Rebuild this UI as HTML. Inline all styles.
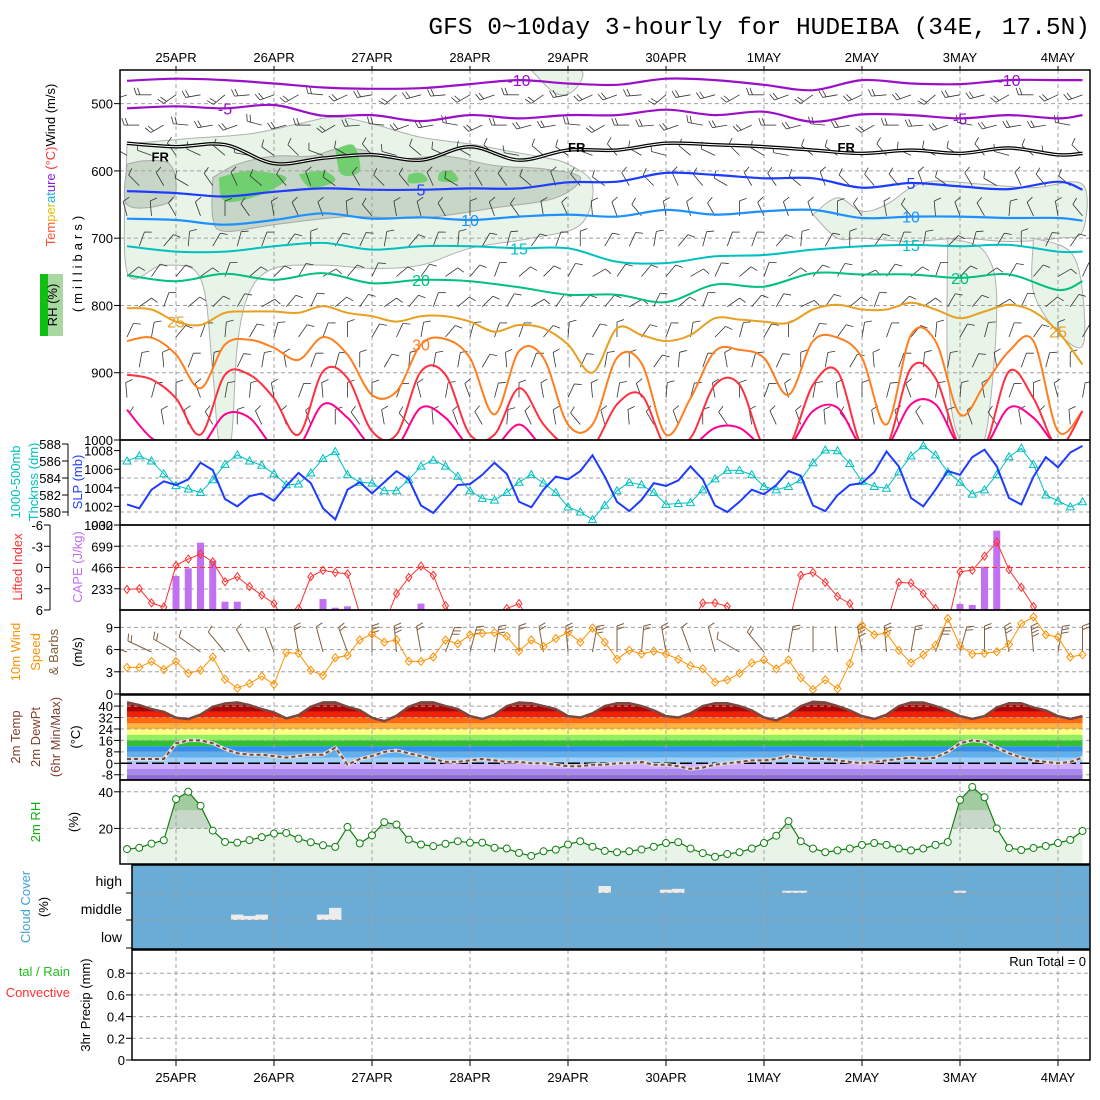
<!DOCTYPE html>
<html><head><meta charset="utf-8"><style>
html,body{margin:0;padding:0;background:#fff;}
svg{display:block;font-family:"Liberation Sans",sans-serif;}
</style></head><body>
<svg id="chart" width="1100" height="1100" viewBox="0 0 1100 1100" xmlns="http://www.w3.org/2000/svg">
<text x="1090" y="34" text-anchor="end" font-family="Liberation Mono, monospace" font-size="24.5">GFS 0~10day 3-hourly for HUDEIBA (34E, 17.5N)</text>
<g id="content"></g>
<g font-size="13">
<rect x="40" y="274" width="23" height="62" fill="#a8d8a0"/>
<rect x="40" y="274" width="8" height="62" fill="#10c010"/>
<text transform="rotate(-90 57 305)" x="57" y="305" text-anchor="middle">RH (%)</text>
<text transform="rotate(-90 55 165)" x="55" y="165" text-anchor="middle"><tspan fill="#ff5030">Tem</tspan><tspan fill="#e0c000">per</tspan><tspan fill="#20b0e0">at</tspan><tspan fill="#8020e0">ure</tspan><tspan fill="#ff3030"> (°C)</tspan><tspan fill="#000">Wind (m/s)</tspan></text>
<text transform="rotate(-90 82 262)" x="82" y="262" text-anchor="middle" letter-spacing="4">(millibars)</text>
<text transform="rotate(-90 20 482)" x="20" y="482" text-anchor="middle" fill="#00c0c0">1000-500mb</text>
<text transform="rotate(-90 38 482)" x="38" y="482" text-anchor="middle" fill="#00c0c0">Thcknss (dm)</text>
<text transform="rotate(-90 82 482)" x="82" y="482" text-anchor="middle" fill="#2040ff">SLP (mb)</text>
<text transform="rotate(-90 22 567)" x="22" y="567" text-anchor="middle" fill="#ff3030">Lifted Index</text>
<text transform="rotate(-90 82 567)" x="82" y="567" text-anchor="middle" fill="#c070f0">CAPE (J/kg)</text>
<text transform="rotate(-90 20 652)" x="20" y="652" text-anchor="middle" fill="#ff9000">10m Wind</text>
<text transform="rotate(-90 40 652)" x="40" y="652" text-anchor="middle" fill="#ff9000">Speed</text>
<text transform="rotate(-90 58 652)" x="58" y="652" text-anchor="middle" fill="#806040">&amp; Barbs</text>
<text transform="rotate(-90 82 652)" x="82" y="652" text-anchor="middle">(m/s)</text>
<text transform="rotate(-90 20 737)" x="20" y="737" text-anchor="middle" fill="#804030">2m Temp</text>
<text transform="rotate(-90 40 737)" x="40" y="737" text-anchor="middle" fill="#804030">2m DewPt</text>
<text transform="rotate(-90 60 737)" x="60" y="737" text-anchor="middle" fill="#804030">(6hr Min/Max)</text>
<text transform="rotate(-90 80 737)" x="80" y="737" text-anchor="middle">(°C)</text>
<text transform="rotate(-90 40 822)" x="40" y="822" text-anchor="middle" fill="#10b010">2m RH</text>
<text transform="rotate(-90 78 822)" x="78" y="822" text-anchor="middle">(%)</text>
<text transform="rotate(-90 30 907)" x="30" y="907" text-anchor="middle" fill="#40a0d8">Cloud Cover</text>
<text transform="rotate(-90 48 907)" x="48" y="907" text-anchor="middle">(%)</text>
<text x="70" y="976" text-anchor="end" fill="#20c020">tal / Rain</text>
<text x="70" y="997" text-anchor="end" fill="#ff3030">Convective</text>
<text transform="rotate(-90 90 1005)" x="90" y="1005" text-anchor="middle">3hr Precip (mm)</text>
</g>
</svg>
<script>
// ===== data =====
const days = ["25APR","26APR","27APR","28APR","29APR","30APR","1MAY","2MAY","3MAY","4MAY"];
const slp = [1002.2,1001.8,1003.8,1004.7,1004.3,1004.9,1006.7,1005.9,1002.8,1002.0,1003.1,1003.4,1002.6,1004.2,1005.6,1004.5,1001.8,1000.6,1003.8,1004.6,1003.4,1004.6,1005.8,1004.9,1002.1,1001.3,1002.8,1004.3,1004.4,1005.4,1006.7,1005.5,1002.5,1001.9,1003.8,1005.2,1004.9,1005.8,1007.5,1005.2,1002.5,1001.5,1002.7,1004.5,1004.2,1004.8,1006.3,1004.9,1002.1,1001.4,1002.5,1003.8,1003.3,1004.3,1005.8,1005.3,1002.1,1001.5,1003.2,1004.3,1004.5,1005.7,1007.9,1006.3,1002.9,1002.0,1003.8,1005.8,1005.4,1007.3,1008.1,1006.3,1002.9,1002.2,1005.2,1007.3,1006.2,1007.8,1008.5];
const thick = [586.0,586.6,586.0,584.5,583.1,582.7,582.3,583.8,585.6,586.7,586.0,585.5,584.5,583.2,583.3,584.6,586.3,587.1,584.4,583.5,583.4,582.5,582.5,583.8,585.4,586.1,585.4,584.2,582.5,581.6,581.4,582.3,583.5,584.4,583.4,582.3,580.6,580.0,579.1,580.8,582.5,583.5,583.2,582.3,580.9,581.0,581.1,582.6,583.9,584.9,584.9,584.4,583.0,582.6,583.0,583.8,585.8,587.3,587.2,585.7,583.6,583.0,582.8,584.7,586.6,587.8,586.7,584.7,583.5,582.1,582.6,584.4,586.5,587.5,585.6,582.0,581.3,580.6,581.2];
const liftedIndex = [3.1,3.0,5.0,5.6,-0.3,-1.2,-1.9,-0.8,2.0,1.3,2.7,3.9,5.1,8,5.8,1.3,0.4,0.7,0.9,6.5,8,8,3.7,1.4,-0.2,1.1,5.4,8,8,8,8,5.8,5.1,8,8,8,8,8,8,8,8,8,8,8,8,8,8,5.0,5.0,5.5,8,8,8,8,8,1.1,0.7,2.1,4.1,5.1,8,8,8,2.1,2.2,3.7,5.8,8,0.6,0.4,-1.6,-3.6,0.3,2.8,5.5,8,8,8,8];
const cape = [0,0,0,0,373,457,738,541,91,91,10,0,0,0,0,10,120,25,40,0,0,0,0,0,70,0,0,0,0,0,0,0,0,0,0,0,0,0,0,0,0,0,0,0,0,0,0,0,0,0,0,0,0,0,0,0,0,0,0,0,0,0,0,0,0,0,0,0,66,55,475,870,10,0,0,0,0,0,0];
const windSpeed = [3.6,3.6,4.4,3.3,4.4,2.8,3.2,5.0,2.0,0.8,1.4,2.4,1.3,5.6,5.5,3.2,2.5,4.9,5.2,7.3,8.1,7.0,7.3,4.4,4.4,5.0,7.3,6.8,8.0,8.2,8.3,7.8,5.8,7.3,6.4,7.5,8.3,7.0,8.9,7.0,4.7,5.9,5.4,5.8,5.4,4.7,3.8,3.4,1.6,1.9,2.8,4.2,4.6,3.4,4.6,2.2,0.6,1.9,0.7,4.1,9.3,8.0,8.2,5.9,4.2,5.3,6.6,10.2,6.5,5.4,5.5,5.7,6.7,9.5,10.4,8.0,7.7,5.0,5.3];
const windDir10m = [290,295,300,305,320,330,340,350,345,340,0,355,350,20,15,10,0,350,355,10,0,5,350,340,345,300,320,10,0,355,350,355,10,20,15,0,350,355,10,0];
const temp2m = [42.6,40.7,37.9,36,31.8,30.9,34.1,39.5,41.8,42.6,40.7,37.9,35.6,31.4,33.7,39.5,42.6,42.6,39.5,37.2,31.8,29.5,33.2,39.5,42.6,42.6,40,38,33,31,34,40,42.5,42,40,38,33,32,35,40,42,42,40,37,33,32,35,40,42,42,40,37,32,30,34,40,43,42.5,40,37,33,31,34,40,42.5,42.5,40,37,33,31,33,39,42,42,39,37,33,31,33];
const dew2m = [3,3,3,3,14,16,16,14,10,7,6,6,5,4,5,6,6,11,-1,3,5,8,9,7,5,3,1,1,2,3,2,1,1,0,0,-1,-2,-2,-1,-1,0,0,1,-1,-1,-2,-4,-3,-1,0,1,2,2,3,5,4,3,3,2,1,0,1,2,3,4,3,4,8,14,16,15,11,7,4,2,1,0,1,4];
const rh2m = [8.7,9.4,11.7,13.5,36,40,32.4,18.8,12.6,12.2,13.6,15.2,17.2,17.5,14.4,12.4,10.8,9.9,20.8,11.8,16.2,23.4,22.1,13.9,11.2,10.3,11.6,13.0,12.2,12.2,9.4,9.0,6.6,5.0,7.5,8.4,11.2,13.0,10,7.7,7,7.5,8.5,10,12,12.5,9,6.5,4.5,6,7,9,12,16,24,13,9,7,8,9,11,12,11,9,8,9,11,12.6,35.5,42.6,37,20,9.3,8.2,9.3,10.4,12,13.7,18.6];
const cloudPatches = [[9,1,20],[10,1,15],[11,1,20],[16,1,20],[17,1,45],[39,2,25],[44,2,12],[45,2,15],[54,2,8],[55,2,8],[68,2,8]];
const isoM10 = [466,463,465,470,476,478,477,471,465,470,472,463,465,472,480,465,470,471,465,465,465];
const isoM5 = [507,504,507,502,518,517,526,517,522,517,517,509,517,512,527,516,517,522,517,522,517];
const isoFR = [559,564,561,589,581,576,584,564,584,569,569,559,561,564,569,574,569,574,566,576,574];
const iso5 = [630,633,638,631,626,628,628,626,626,617,616,603,606,611,611,625,618,623,627,616,628];
const iso10 = [671,673,680,673,663,671,669,673,668,665,668,658,665,660,658,670,668,668,670,670,674];
const iso15 = [712,720,720,712,707,717,712,712,715,715,735,737,727,725,717,712,710,712,710,720,720];
const iso20 = [755,764,753,762,752,767,762,764,773,784,784,795,769,772,752,754,754,759,754,777,764];
const iso25 = [804,806,824,829,811,809,809,811,801,811,816,824,816,816,824,839,829,834,858,900,834,844,853,844,819,821,824,826,806,799,806,806,796,806,819,809,799,809,839,888];
const iso30 = [853,848,873,923,858,851,863,881,847,873,933,928,858,850,878,962,868,878,977,977,878,886,992,938,868,866,878,933,853,848,878,977,844,853,962,918,868,853,987,957];
const iso35 = [903,910,938,992,903,903,938,992,898,908,987,992,898,903,992,992,923,977,1010,1010,947,933,1010,997,918,918,1010,1010,918,898,1010,1010,893,908,1010,1010,898,938,1010,957];
const iso40 = [955,997,1010,1010,962,967,1010,1010,947,967,1010,1010,952,967,1010,1010,977,1010,1010,1010,1010,1010,1010,1010,982,982,1010,1010,957,952,1010,1010,947,947,1010,1010,952,967,1010,1010];
const rh30Regions = [
 [[0,560],[5,552],[10,545],[14,530],[17,520],[20,530],[24,550],[28,560],[31,570],[34,580],[36,590],[38,620],[37,680],[33,700],[28,715],[24,740],[20,745],[16,740],[12,745],[10,780],[9,860],[8.5,1000],[7.5,1000],[7,900],[6,760],[3,740],[0,750]],
 [[56,665],[58,640],[60,660],[62,650],[64,625],[66,615],[70,620],[74,625],[78,620],[78,690],[76,700],[72,705],[68,700],[64,705],[60,700],[58,700]],
 [[67,700],[70,720],[71,800],[70,1000],[68,1000],[67,900]],
 [[74,700],[77,720],[78,780],[78,860],[76,840],[74,780]],
 [[33,450],[37,450],[36.5,480],[35,485]]];
const rh50Regions = [
 [[0,590],[1.5,585],[3.5,590],[4,630],[3,650],[0,650]],
 [[7,610],[9,590],[12,578],[15,578],[17,568],[19,568],[22,582],[26,578],[30,592],[34,597],[37,610],[35,640],[30,655],[24,670],[18,668],[12,680],[8,690],[7,670]]];
const rh70Regions = [
 [[7.5,610],[10,600],[13,610],[11,635],[8,645]],
 [[14,605],[16,600],[17,615],[15,625]],
 [[17,568],[18.5,562],[19,600],[17.5,605]],
 [[23,605],[24,603],[24.5,615],[23,618]],
 [[25.5,602],[26.5,600],[27,615],[25.5,615]]];
const barbLevels = [475,520,565,610,655,700,745,790,835,880,925,965];
const barbDirLev = [250,260,300,320,340,20,40,40,20,10,0,340];
const barbSpdLev = [8,8,6,5,5,5,5,5,5,6,6,5];
const barbDirTime = [0,20,-15,10,-20,15,0,-10,25,-5,10,-20,5,15,-10,0,20,-15,10,-5,0,15,-20,10,5,-10,20,0,-15,10,-5,15,0,-20,10,5,-10,20,-5,0];

// ===== helpers =====
const NS = "http://www.w3.org/2000/svg";
const root = document.getElementById("content");
const X0 = 127, DX = 12.25, XL = 120, XR = 1090;
const X = i => X0 + DX * i;
function el(tag, attrs, parent) {
  const e = document.createElementNS(NS, tag);
  for (const k in attrs) e.setAttribute(k, attrs[k]);
  (parent || root).appendChild(e);
  return e;
}
function txt(s, x, y, attrs, parent) {
  const t = el("text", Object.assign({x: x, y: y, "font-size": 13}, attrs || {}), parent);
  t.textContent = s;
  return t;
}
function pts(arr) { return arr.map(p => p[0].toFixed(1) + "," + p[1].toFixed(1)).join(" "); }
function smoothPath(p) {
  let d = "M" + p[0][0].toFixed(1) + "," + p[0][1].toFixed(1);
  for (let k = 0; k < p.length - 1; k++) {
    const p0 = p[Math.max(0, k - 1)], p1 = p[k], p2 = p[k + 1], p3 = p[Math.min(p.length - 1, k + 2)];
    const c1 = [p1[0] + (p2[0] - p0[0]) / 6, p1[1] + (p2[1] - p0[1]) / 6];
    const c2 = [p2[0] - (p3[0] - p1[0]) / 6, p2[1] - (p3[1] - p1[1]) / 6];
    d += " C" + c1[0].toFixed(1) + "," + c1[1].toFixed(1) + " " + c2[0].toFixed(1) + "," + c2[1].toFixed(1) + " " + p2[0].toFixed(1) + "," + p2[1].toFixed(1);
  }
  return d;
}
function hgrid(g, ys, x1) { ys.forEach(y => { const l = el("line", {x1: x1 || XL, x2: XR, y1: y, y2: y, stroke: "#a0a0a0", "stroke-dasharray": "4,3"}, g);   }); }
function vgrid(g, y1, y2) { days.forEach((d, k) => { const l = el("line", {x1: X(4 + 8 * k), x2: X(4 + 8 * k), y1: y1, y2: y2, stroke: "#a0a0a0", "stroke-dasharray": "4,3"}, g);   }); }
function frame(g, y1, y2, x1) { const r = el("rect", {x: x1 || XL, y: y1, width: XR - (x1 || XL), height: y2 - y1, fill: "none", stroke: "#000", "stroke-width": 1.5}, g);   }
function clipRect(id, x, y, w, h) { const defs = el("defs", {}); const c = el("clipPath", {id: id}, defs); el("rect", {x: x, y: y, width: w, height: h}, c); }
function yTicks(g, vals, yf, xAxis, fmt, color) {
  vals.forEach(v => { const y = yf(v); el("line", {x1: xAxis - 6, x2: xAxis, y1: y, y2: y, stroke: "#000"}, g); const t = txt(fmt ? fmt(v) : String(v), xAxis - 7, y + 5, {"text-anchor": "end", fill: color || "#000"}, g);   });
}
function barb(g, x, y, dir, spd, L, color, w) {
  const a = dir * Math.PI / 180;
  const ux = Math.sin(a), uy = -Math.cos(a);
  const tx = x + ux * L, ty = y + uy * L;
  el("line", {x1: x, y1: y, x2: tx, y2: ty, stroke: color, "stroke-width": w || 1}, g);
  const n = Math.max(0, Math.round(spd / 5));
  const px = Math.cos(a), py = Math.sin(a);
  for (let k = 0; k < n; k++) {
    const bx = tx - ux * k * 3.5, by = ty - uy * k * 3.5;
    el("line", {x1: bx, y1: by, x2: bx + px * 7 + ux * 2.5, y2: by + py * 7 + uy * 2.5, stroke: color, "stroke-width": w || 1}, g);
  }
}

// ===== date labels =====
const dl = el("g", {});


days.forEach((d, k) => {
  const t1 = txt(d, X(4 + 8 * k), 62, {"text-anchor": "middle"}, dl);
  
  
  const t2 = txt(d, X(4 + 8 * k), 1082, {"text-anchor": "middle"}, dl);
  
  
  el("line", {x1: X(4 + 8 * k), x2: X(4 + 8 * k), y1: 66, y2: 70, stroke: "#000"}, dl);
  el("line", {x1: X(4 + 8 * k), x2: X(4 + 8 * k), y1: 1060, y2: 1066, stroke: "#000"}, dl);
});

// ===== panel 1 =====
const P1 = {y1: 70, y2: 440};
const Yp = p => 70 + (p - 450) * 0.6727;
const g1 = el("g", {"clip-path": "url(#c1)"});


clipRect("c1", XL, P1.y1, XR - XL, P1.y2 - P1.y1);
function region(arr, fill, stroke, name) {
  const pp = arr.map(q => [X(q[0]), Yp(q[1])]);
  pp.push(pp[0]);
  const p = el("path", {d: smoothPath(pp) + " Z", fill: fill, stroke: stroke, "stroke-width": 1}, g1);
  
  
}
rh30Regions.forEach(r => region(r, "#e8f4e8", "#b0b0b0", "rh-30-region"));
rh50Regions.forEach(r => region(r, "#c8d6c8", "#a8a8a8", "rh-50-region"));
rh70Regions.forEach(r => region(r, "#70d070", "none", "rh-70-region"));
hgrid(g1, [500, 600, 700, 800, 900].map(Yp));
vgrid(g1, P1.y1, P1.y2);
const gb = el("g", {});


g1.appendChild(gb);
barbLevels.forEach((p, li) => {
  for (let k = 0; k < 40; k++) {
    const i = 2 * k + (li % 2);
    if (i > 78) continue;
    barb(gb, X(i), Yp(p) + 8, barbDirLev[li] + barbDirTime[(k + li * 3) % 40], barbSpdLev[li], 15, "#333", 0.8);
  }
});
function iso(arr, step, color, name, w, label) {
  const pp = arr.map((p, k) => [X(Math.min(78, k * step)), Yp(p)]);
  const d = smoothPath(pp);
  if (name === "isotherm-fr") {
    const a = el("path", {d: d, fill: "none", stroke: "#000", "stroke-width": 3.5}, g1);
    
    
    el("path", {d: d, fill: "none", stroke: "#fff", "stroke-width": 1}, g1);
  } else {
    const a = el("path", {d: d, fill: "none", stroke: color, "stroke-width": w || 2}, g1);
    
    
  }
  (label || []).forEach(L => {
    const k = L[0];
    const t = txt(L[1], pp[k][0], pp[k][1] + 6, {"text-anchor": "middle", fill: color, "font-size": 16}, g1);
    
    
  });
}
iso(isoM10, 4, "#9a10c8", "isotherm-minus10", 2.2, [[8, "-10"], [18, "-10"]]);
iso(isoM5, 4, "#9a10c8", "isotherm-minus5", 2.2, [[2, "-5"], [17, "-5"]]);
iso(isoFR, 4, "#000", "isotherm-fr", 2, []);
iso(iso5, 4, "#1e3cff", "isotherm-5", 2.2, [[6, "5"], [16, "5"]]);
iso(iso10, 4, "#1e90ff", "isotherm-10", 2.2, [[7, "10"], [16, "10"]]);
iso(iso15, 4, "#00c0c0", "isotherm-15", 2, [[8, "15"], [16, "15"]]);
iso(iso20, 4, "#00c080", "isotherm-20", 2, [[6, "20"], [17, "20"]]);
iso(iso25, 2, "#e8a020", "isotherm-25", 2, [[2, "25"], [38, "25"]]);
iso(iso30, 2, "#ff7f20", "isotherm-30", 2, [[12, "30"]]);
iso(iso35, 2, "#ff3040", "isotherm-35", 2, []);
iso(iso40, 2, "#ff0090", "isotherm-40", 2, []);
[["FR", X(2), Yp(isoFR[0]) + 18], ["FR", X(36), Yp(isoFR[9]) + 2], ["FR", X(58), Yp(isoFR[14]) + 2]].forEach(f => {
  const t = txt(f[0], f[1], f[2], {"font-size": 13, "font-weight": "bold"}, g1);
  
  
});
const a1 = el("g", {});


yTicks(a1, [500, 600, 700, 800, 900, 1000], Yp, XL);
frame(a1, P1.y1, P1.y2);

// ===== panel 2 =====
const Ys = v => 525 - (v - 1000) * 9.3;
const Yt = v => 461 + (586 - v) * 8.5;
const g2 = el("g", {"clip-path": "url(#c2)"});


clipRect("c2", XL, 440, XR - XL, 85);
hgrid(g2, [461, 478, 495, 512]);
vgrid(g2, 440, 525);
const thLine = el("polyline", {points: pts(thick.map((v, i) => [X(i), Yt(v)])), fill: "none", stroke: "#00c0c0", "stroke-width": 1}, g2);


thick.forEach((v, i) => {
  const x = X(i), y = Yt(v);
  const m = el("polygon", {points: pts([[x, y - 4], [x - 4, y + 3], [x + 4, y + 3]]), fill: "none", stroke: "#00c0c0"}, g2);
  
  
});
const slpLine = el("polyline", {points: pts(slp.map((v, i) => [X(i), Ys(v)])), fill: "none", stroke: "#1e3cff", "stroke-width": 2}, g2);


const a2 = el("g", {});


yTicks(a2, [1008, 1006, 1004, 1002, 1000], Ys, XL);
el("line", {x1: 68, x2: 68, y1: 444, y2: 516, stroke: "#000"}, a2);
yTicks(a2, [588, 586, 584, 582, 580], Yt, 68);
frame(a2, 440, 525);

// ===== panel 3 =====
const Yc = v => 610 - v / 932 * 85;
const Yl = v => 567.5 + v * 7.08;
const g3 = el("g", {"clip-path": "url(#c3)"});


clipRect("c3", XL, 525, XR - XL, 85);
hgrid(g3, [546, 589]);
vgrid(g3, 525, 610);
cape.forEach((v, i) => {
  if (v <= 0) return;
  const b = el("rect", {x: X(i) - 3.5, y: Yc(v), width: 7, height: 610 - Yc(v), fill: "#c070f0"}, g3);
  
  
});
const zl = el("line", {x1: XL, x2: XR, y1: Yl(0), y2: Yl(0), stroke: "#ff3030", "stroke-dasharray": "5,3"}, g3);


const liLine = el("polyline", {points: pts(liftedIndex.map((v, i) => [X(i), Yl(v)])), fill: "none", stroke: "#ff3030", "stroke-width": 1}, g3);


liftedIndex.forEach((v, i) => {
  if (v > 6) return;
  const x = X(i), y = Yl(v);
  const m = el("polygon", {points: pts([[x, y - 4], [x + 3, y], [x, y + 4], [x - 3, y]]), fill: "none", stroke: "#ff3030"}, g3);
  
  
});
const a3 = el("g", {});


yTicks(a3, [932, 699, 466, 233], Yc, XL);
el("line", {x1: 50, x2: 50, y1: 525, y2: 610, stroke: "#000"}, a3);
yTicks(a3, [-6, -3, 0, 3, 6], Yl, 50);
frame(a3, 525, 610);

// ===== panel 4 =====
const Yw = v => 694 - v * 7.4;
const g4 = el("g", {"clip-path": "url(#c4)"});


clipRect("c4", XL, 610, XR - XL, 84);
hgrid(g4, [3, 6, 9].map(Yw));
vgrid(g4, 610, 694);
windDir10m.forEach((d, k) => {
  const i = 2 * k;
  barb(g4, X(i), 652, d, windSpeed[i] * 1.9, 26, "#806040");
});
const wsLine = el("polyline", {points: pts(windSpeed.map((v, i) => [X(i), Yw(v)])), fill: "none", stroke: "#ff9000", "stroke-width": 1}, g4);


windSpeed.forEach((v, i) => {
  const x = X(i), y = Yw(v);
  const m = el("polygon", {points: pts([[x, y - 4], [x + 3.5, y], [x, y + 4], [x - 3.5, y]]), fill: "none", stroke: "#ff9000"}, g4);
  
  
});
const a4 = el("g", {});


yTicks(a4, [0, 3, 6, 9], Yw, XL);
frame(a4, 610, 694);

// ===== panel 5 =====
const Ytm = v => 763.3 - v * 1.43;
const g5 = el("g", {"clip-path": "url(#c5)"});


clipRect("c5", XL, 695, XR - XL, 85);
const defs5 = el("defs", {});
const cp = el("clipPath", {id: "tempUnder"}, defs5);
el("polygon", {points: pts([[X(0), 780]].concat(temp2m.map((v, i) => [X(i), Ytm(v)])).concat([[X(78), 780]]))}, cp);
const bands = [[-16,-8,"#8f6ad8"],[-8,-4,"#a888f0"],[-4,0,"#d0b0ff"],[0,4,"#a0d0f8"],[4,8,"#60b0f0"],[8,12,"#3090f0"],[12,16,"#30c030"],[16,20,"#90f060"],[20,24,"#ffff80"],[24,28,"#ffb040"],[28,32,"#ff6a10"],[32,36,"#f02000"],[36,41,"#b00000"],[41,50,"#7a4840"]];
const gband = el("g", {"clip-path": "url(#tempUnder)"}, g5);
bands.forEach(b => {
  const r = el("rect", {x: XL, y: Ytm(b[1]), width: XR - XL, height: Ytm(b[0]) - Ytm(b[1]), fill: b[2]}, gband);
  
  
});
hgrid(g5, [40, 32, 24, 16, 8, -8].map(Ytm));
vgrid(g5, 695, 780);
el("line", {x1: XL, x2: XR, y1: Ytm(0), y2: Ytm(0), stroke: "#000", "stroke-width": 1.5, "stroke-dasharray": "12,4"}, g5);
const tl = el("polyline", {points: pts(temp2m.map((v, i) => [X(i), Ytm(v)])), fill: "none", stroke: "#7a4840", "stroke-width": 2.5}, g5);


el("polyline", {points: pts(dew2m.map((v, i) => [X(i), Ytm(v)])), fill: "none", stroke: "#e0e0e0", "stroke-width": 3.5}, g5);
const dwl = el("polyline", {points: pts(dew2m.map((v, i) => [X(i), Ytm(v)])), fill: "none", stroke: "#7a4840", "stroke-width": 2, "stroke-dasharray": "4,3"}, g5);


const a5 = el("g", {});


yTicks(a5, [40, 32, 24, 16, 8, 0, -8], Ytm, XL);
frame(a5, 695, 780);

// ===== panel 6 =====
const Yr = v => 865 - v * 1.83;
const g6 = el("g", {"clip-path": "url(#c6)"});


clipRect("c6", XL, 780, XR - XL, 84);
clipRect("rh20", XL, 780, XR - XL, Yr(20) - 780);
clipRect("rh30", XL, 780, XR - XL, Yr(30) - 780);
const areaPts = pts([[X(0), 864]].concat(rh2m.map((v, i) => [X(i), Yr(v)])).concat([[X(78), 864]]));
const ar = el("polygon", {points: areaPts, fill: "#e8f4e8"}, g6);


el("polygon", {points: areaPts, fill: "#c8d8c8", "clip-path": "url(#rh20)"}, g6);
el("polygon", {points: areaPts, fill: "#a0cca0", "clip-path": "url(#rh30)"}, g6);
hgrid(g6, [Yr(20), Yr(40)]);
vgrid(g6, 780, 864);
const rl = el("polyline", {points: pts(rh2m.map((v, i) => [X(i), Yr(v)])), fill: "none", stroke: "#108010", "stroke-width": 1.2}, g6);


rh2m.forEach((v, i) => {
  const c = el("circle", {cx: X(i), cy: Yr(v), r: 3.5, fill: "#fff", stroke: "#108010"}, g6);
  
  
});
const a6 = el("g", {});


yTicks(a6, [20, 40], Yr, XL);
frame(a6, 780, 864);

// ===== panel 7 =====
const CX = 132;
const g7 = el("g", {});


const cbg = el("rect", {x: CX, y: 865, width: XR - CX, height: 84, fill: "#6aacd6"}, g7);


const layerBottom = [949, 920, 893], layerH = [29, 27, 28];
cloudPatches.forEach(c => {
  const h = c[2] / 100 * layerH[c[1]];
  const r = el("rect", {x: X(c[0]) - 6.2, y: layerBottom[c[1]] - h, width: 12.4, height: h, fill: "#ececec"}, g7);
  
  
});
hgrid(g7, [893, 920], CX);
vgrid(g7, 865, 949);
[["high", 887], ["middle", 915], ["low", 943]].forEach(l => {
  const t = txt(l[0], 122, l[1] - 1, {"text-anchor": "end", "font-size": 14}, g7);
  
  
});
[893, 920, 948].forEach(y => el("line", {x1: 126, x2: CX, y1: y, y2: y, stroke: "#000"}, g7));
frame(g7, 865, 949, CX);

// ===== panel 8 =====
const Ypr = v => 1060 - v * 108.5;
const g8 = el("g", {});


hgrid(g8, [0.2, 0.4, 0.6, 0.8].map(Ypr), CX);
vgrid(g8, 950, 1060);
yTicks(g8, [0, 0.2, 0.4, 0.6, 0.8], Ypr, CX, v => v === 0 ? "0" : v.toFixed(1));
const rt = txt("Run Total = 0", 1086, 966, {"text-anchor": "end", "font-size": 13}, g8);


frame(g8, 950, 1060, CX);
</script>
</body></html>
